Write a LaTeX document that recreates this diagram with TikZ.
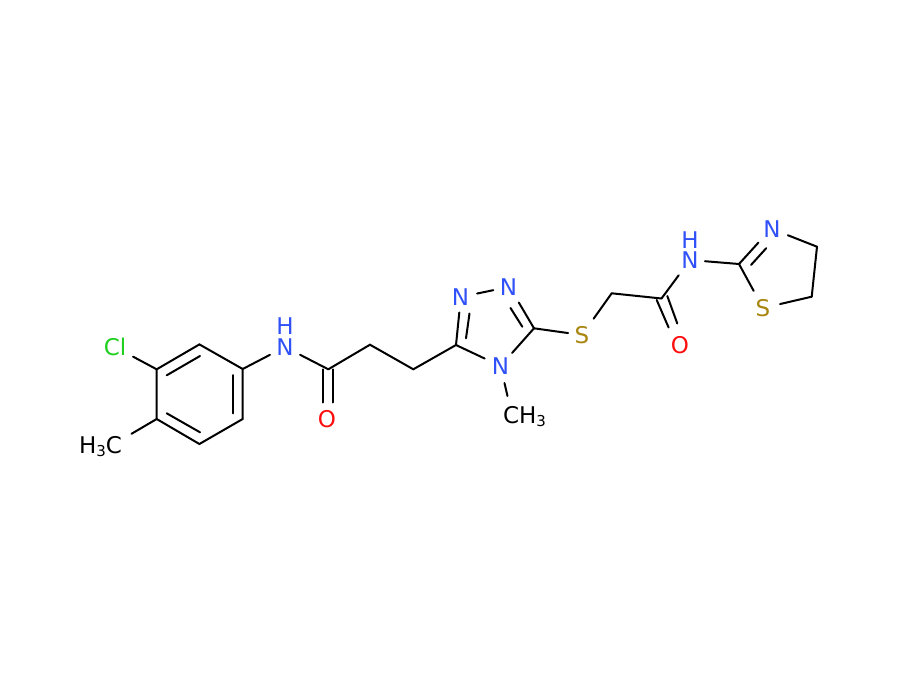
\documentclass[tikz,border=0pt]{standalone}
\usepackage{fontspec}
\setmainfont{DejaVu Sans}
\definecolor{nblue}{HTML}{3050F8}
\definecolor{ored}{HTML}{FF0D0D}
\definecolor{clgreen}{HTML}{1FD01F}
\definecolor{sgold}{HTML}{A8860F}
\newcommand{\subthree}{\raisebox{-3.5pt}{\fontsize{15}{15}\selectfont 3}}
\tikzset{
  bond/.style={draw=black,line width=2pt,line cap=round},
  atomlabel/.style={circle,inner sep=0pt,outer sep=0pt,minimum size=34pt,
    font=\fontsize{23}{23}\selectfont,text height=16.8pt,text depth=0pt},
  hlabel/.style={inner sep=0pt,outer sep=0pt,text=nblue,
    font=\fontsize{23}{23}\selectfont,text height=16.8pt,text depth=0pt},
  methyl/.style={inner sep=0pt,outer sep=0pt,text=black,
    font=\fontsize{23}{23}\selectfont,text height=16.8pt,text depth=0pt},
}
\begin{document}
\begin{tikzpicture}[x=1pt,y=-1pt]
\useasboundingbox (0,0) rectangle (900,680);
\fill[white] (0,0) rectangle (900,680);
% heteroatoms
\node[atomlabel,text=clgreen,minimum size=41pt] (cl) at (115,347) {Cl};
\node[atomlabel,text=nblue] (n1) at (285,347) {N};
\node[hlabel] (h1) at (285,326) {H};
\node[atomlabel,text=ored] (o1) at (327,419) {O};
\node[atomlabel,text=nblue] (n2) at (460.5,297) {N};
\node[atomlabel,text=nblue,minimum size=31pt] (n3) at (508.5,287) {N};
\node[atomlabel,text=nblue,minimum size=35pt] (n4) at (500.5,366) {N};
\node[atomlabel,text=sgold,minimum size=28pt] (s1) at (582,335) {S};
\node[atomlabel,text=nblue,minimum size=30pt] (n5) at (690,260) {N};
\node[hlabel] (h2) at (690,240) {H};
\node[atomlabel,text=ored] (o2) at (680,345) {O};
\node[atomlabel,text=nblue] (n6) at (772,229) {N};
\node[atomlabel,text=sgold,minimum size=35pt] (s2) at (763,308) {S};
\node[methyl,anchor=east] (me1) at (122,445) {H\subthree C};
\node[methyl,anchor=west] (me2) at (503,415) {CH\subthree};
% carbons
\coordinate (a1) at (242.7,369);
\coordinate (a2) at (199.4,344.4);
\coordinate (a3) at (156.7,369.3);
\coordinate (a4) at (156.7,419);
\coordinate (a5) at (199.4,444);
\coordinate (a6) at (242.7,419);
\coordinate (b1) at (328.3,369.3);
\coordinate (b2) at (370,344.7);
\coordinate (b3) at (413.3,369.3);
\coordinate (t1) at (456,345);
\coordinate (t2) at (534,328.3);
\coordinate (d1) at (611.7,293.3);
\coordinate (d2) at (661.5,298.5);
\coordinate (z1) at (739,264);
\coordinate (z2) at (817,246.7);
\coordinate (z3) at (811.7,296.7);
% free bond ends
\coordinate (me1e) at (131.5,433.8);
\coordinate (me2e) at (507.5,396);
% double-bond lines
\coordinate (i1a) at (166.7,375.3); \coordinate (i1b) at (200,356);
\coordinate (i2a) at (232.7,375);   \coordinate (i2b) at (232.7,413.3);
\coordinate (i3a) at (166.7,413.3); \coordinate (i3b) at (200,432.3);
\coordinate (oa1) at (322.7,369.3); \coordinate (oa2) at (322.7,402.5);
\coordinate (ob1) at (332.7,369.3); \coordinate (ob2) at (332.7,402.5);
\coordinate (t1a) at (456,345);     \coordinate (t1b) at (459.3,312.5);
\coordinate (t2a) at (466,338.3);   \coordinate (t2b) at (469.5,313.5);
\coordinate (t3a) at (522.3,326.7); \coordinate (t3b) at (510.5,308);
\coordinate (t4b) at (518.8,302.5);
\coordinate (pa1) at (656.7,300);   \coordinate (pa2) at (668.6,327.5);
\coordinate (pb1) at (667.3,296);   \coordinate (pb2) at (677.3,323.5);
\coordinate (q1a) at (751,265);     \coordinate (q1b) at (766.2,248.2);
\coordinate (q2b) at (758.5,242.5);
% aryl ring
\draw[bond] (a1) -- (a2) -- (a3) -- (a4) -- (a5) -- (a6) -- cycle;
\draw[bond] (i1a) -- (i1b);
\draw[bond] (i2a) -- (i2b);
\draw[bond] (i3a) -- (i3b);
\draw[bond] (a3) -- (cl);
\draw[bond] (a4) -- (me1e);
% first amide and chain
\draw[bond] (a1) -- (n1);
\draw[bond] (n1) -- (b1);
\draw[bond] (oa1) -- (oa2);
\draw[bond] (ob1) -- (ob2);
\draw[bond] (b1) -- (b2) -- (b3) -- (t1);
% triazole
\draw[bond] (t1a) -- (t1b);
\draw[bond] (t2a) -- (t2b);
\draw[bond] (n2) -- (n3);
\draw[bond] (t4b) -- (t2);
\draw[bond] (t3a) -- (t3b);
\draw[bond] (t2) -- (n4);
\draw[bond] (t1) -- (n4);
\draw[bond] (n4) -- (me2e);
% linker
\draw[bond] (t2) -- (s1);
\draw[bond,shorten <=6pt] (s1) -- (d1);
\draw[bond] (d1) -- (d2);
\draw[bond,shorten >=4pt] (d2) -- (n5);
\draw[bond] (pa1) -- (pa2);
\draw[bond] (pb1) -- (pb2);
\draw[bond] (n5) -- (z1);
% thiazoline
\draw[bond] (z1) -- (q2b);
\draw[bond] (q1a) -- (q1b);
\draw[bond,shorten >=2pt] (z1) -- (s2);
\draw[bond] (s2) -- (z3);
\draw[bond] (z3) -- (z2);
\draw[bond] (z2) -- (n6);
\end{tikzpicture}
\end{document}
